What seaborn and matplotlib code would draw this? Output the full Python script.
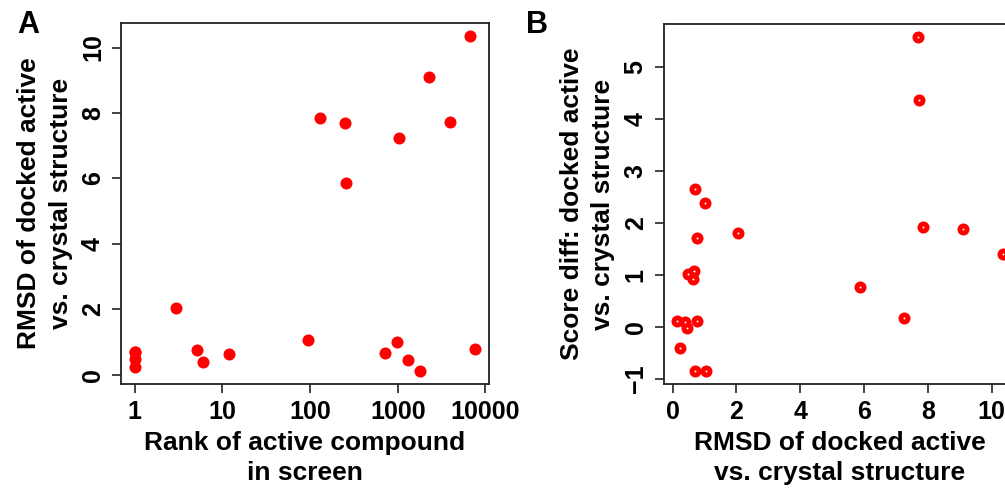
import pandas as pd
import seaborn as sns
import matplotlib.pyplot as plt

# values
rank = [1, 1, 1, 1, 3, 5.1, 6, 12, 94, 129, 249, 258, 717, 974, 1027, 1300, 1815, 2259, 3990, 6627, 7690]
rmsd = [0.69, 0.69, 0.48, 0.24, 2.04, 0.75, 0.40, 0.63, 1.06, 7.86, 7.69, 5.87, 0.66, 1.02, 7.24, 0.46, 0.13, 9.10, 7.71, 10.34, 0.78]
score_diff = [2.66, -0.84, 1.01, -0.40, 1.81, 1.71, 0.09, 0.93, -0.84, 1.93, 5.57, 0.76, 1.07, 2.38, 0.17, -0.01, 0.12, 1.89, 4.37, 1.40, 0.12]

rank_ticks = [1, 10, 100, 1000, 10000]
rank_labels = ["1", "10", "100", "1000", "10000"]
rmsd_ticks = [0, 2, 4, 6, 8, 10]
score_ticks = [-1, 0, 1, 2, 3, 4, 5]

df = pd.DataFrame({"rank": rank, "rmsd": rmsd, "score": score_diff})

sns.set_style("ticks")
plt.rcParams['font.family'] = ['Liberation Sans', 'DejaVu Sans']
plt.rcParams['font.weight'] = 'bold'
plt.rcParams['axes.labelweight'] = 'bold'
plt.rcParams['text.color'] = 'black'
plt.rcParams['axes.labelcolor'] = 'black'
plt.rcParams['xtick.labelcolor'] = 'black'
plt.rcParams['ytick.labelcolor'] = 'black'

fig = plt.figure(figsize=(10.05, 4.95), dpi=100)
axA = fig.add_axes([0.1204, 0.2242, 0.3662, 0.7293])
axB = fig.add_axes([0.6604, 0.2242, 0.3502, 0.7273])

red = "#ff0000"

sns.scatterplot(data=df, x="rank", y="rmsd", ax=axA, color=red, s=75, linewidth=0)
axA.set_xscale("log")
axA.margins(0.04)
axA.set_xticks(rank_ticks)
axA.set_xticklabels(rank_labels)
axA.minorticks_off()
axA.set_yticks(rmsd_ticks)
axA.set_xlabel("Rank of active compound\nin screen", fontsize=19, linespacing=1.3, labelpad=5)
axA.set_ylabel("RMSD of docked active\nvs. crystal structure", fontsize=19, linespacing=1.4, labelpad=6)

sns.scatterplot(data=df, x="rmsd", y="score", ax=axB, color=red, s=75, linewidth=0)
sns.scatterplot(data=df, x="rmsd", y="score", ax=axB, color="white", s=2, linewidth=0)
axB.margins(0.04)
axB.set_xticks(rmsd_ticks)
axB.set_yticks(score_ticks)
axB.set_xlabel("RMSD of docked active\nvs. crystal structure", fontsize=19, linespacing=1.3, labelpad=5)
axB.set_ylabel("Score diff: docked active\nvs. crystal structure", fontsize=19, linespacing=1.4, labelpad=6)

for ax in (axA, axB):
    for sp in ax.spines.values():
        sp.set_visible(True)
        sp.set_linewidth(1.3)
        sp.set_color("#222222")
    ax.tick_params(direction="out", length=6.5, width=1.2, color="#222222", labelsize=18, pad=5)
    for lab in ax.get_yticklabels():
        lab.set_rotation(90)
        lab.set_va("center")

fig.text(0.0284, 0.9485, "A", fontsize=22, fontweight="bold", ha="center", va="center")
fig.text(0.5348, 0.9485, "B", fontsize=22, fontweight="bold", ha="center", va="center")

fig.savefig("out.png", dpi=100)
